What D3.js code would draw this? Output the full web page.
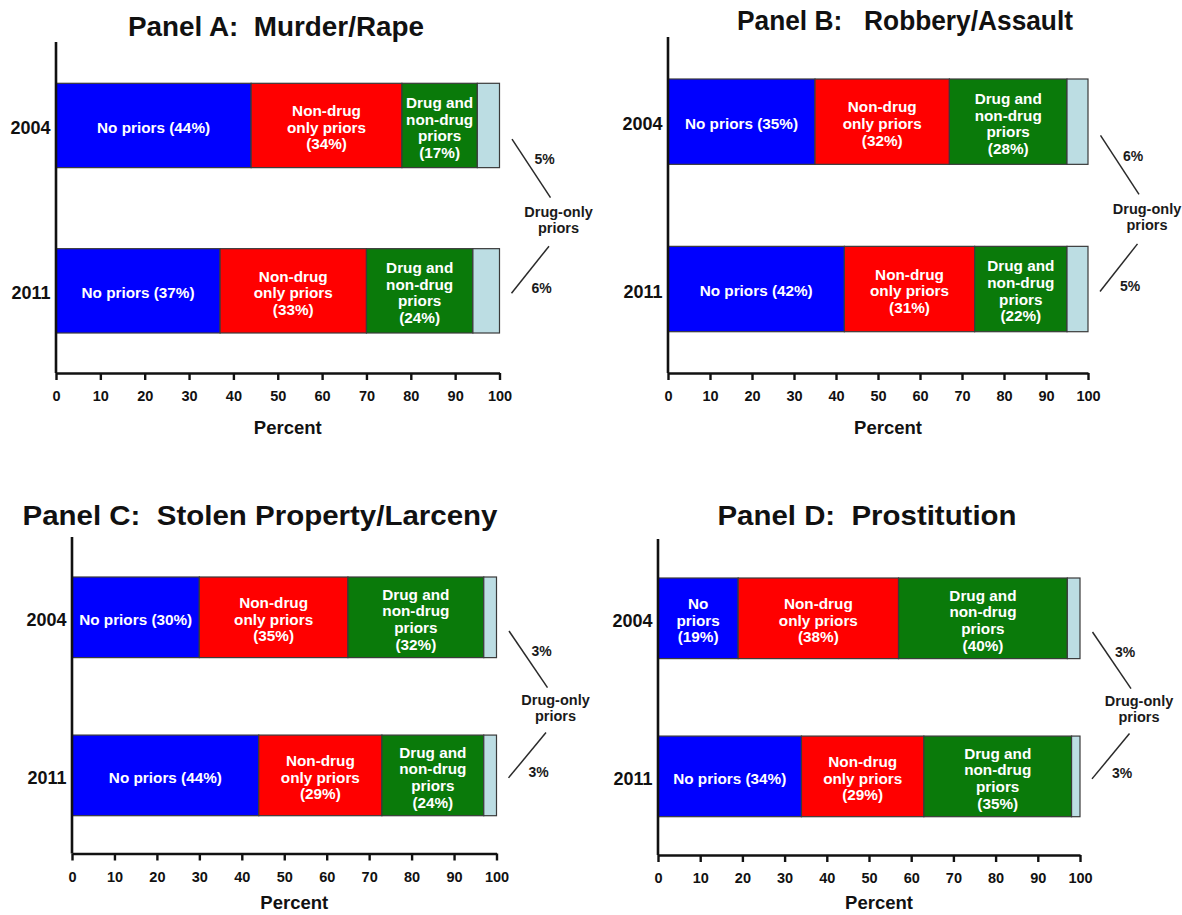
<!DOCTYPE html>
<html>
<head>
<meta charset="utf-8">
<script src="https://cdn.jsdelivr.net/npm/d3@7/dist/d3.min.js"></script>
<style>
  html, body { margin: 0; padding: 0; background: #fff; }
  svg { display: block; font-family: "Liberation Sans", Arial, Helvetica, sans-serif; }
  text { white-space: pre; }
</style>
</head>
<body>
<svg id="chart" width="1182" height="915"></svg>
<script>
// ---------- DATA ----------
const years = ["2004", "2011"];
const categories = ["No priors", "Non-drug only priors", "Drug and non-drug priors", "Drug-only priors"];
const panelTitles = [
  "Panel A:  Murder/Rape",
  "Panel B:   Robbery/Assault",
  "Panel C:  Stolen Property/Larceny",
  "Panel D:  Prostitution"
];
// percent values per year, order = categories
const murderRape     = [[44, 34, 17, 5], [37, 33, 24, 6]];
const robberyAssault = [[35, 32, 28, 6], [42, 31, 22, 5]];
const stolenLarceny  = [[30, 35, 32, 3], [44, 29, 24, 3]];
const prostitution   = [[19, 38, 40, 3], [34, 29, 35, 3]];
const tickValues = [0, 10, 20, 30, 40, 50, 60, 70, 80, 90, 100];
const axisLabel = "Percent";
const calloutLabel = ["Drug-only", "priors"];

// ---------- STYLE / LAYOUT ----------
const colors = ["#0000ff", "#ff0000", "#0a7a0a", "#bcdde3"];
const panelData = [murderRape, robberyAssault, stolenLarceny, prostitution];
const layout = [
  { x0: 56,  x1: 499.5, bandTop: 83.3, bandBot: 333,   axisTop: 42,  axisY: 373,   titleX: 276, titleY: 36,  titleW: 296 },
  { x0: 668, x1: 1088,  bandTop: 79,   bandBot: 331.7, axisTop: 37,  axisY: 373,   titleX: 905, titleY: 30,  titleW: 336 },
  { x0: 72,  x1: 496.5, bandTop: 577,  bandBot: 815.7, axisTop: 537, axisY: 853.5, titleX: 260, titleY: 525, titleW: 475 },
  { x0: 658, x1: 1080,  bandTop: 578,  bandBot: 816.7, axisTop: 539, axisY: 855,   titleX: 867, titleY: 525, titleW: 299 }
];

const svg = d3.select("#chart");

function segLines(catIdx, v, width) {
  const pct = "(" + v + "%)";
  if (catIdx === 0) {
    return width > 118 ? ["No priors " + pct] : ["No", "priors", pct];
  }
  if (catIdx === 1) return ["Non-drug", "only priors", pct];
  if (catIdx === 2) return ["Drug and", "non-drug", "priors", pct];
  return [];
}

panelData.forEach((data, pi) => {
  const L = layout[pi];
  const g = svg.append("g");

  const x = d3.scaleLinear().domain([0, 100]).range([L.x0, L.x1]).clamp(true);
  const y = d3.scaleBand().domain(years).range([L.bandTop, L.bandBot]).paddingInner(0.49).paddingOuter(0);

  // title
  g.append("text")
    .attr("x", L.titleX).attr("y", L.titleY)
    .attr("text-anchor", "middle")
    .attr("font-size", 27).attr("font-weight", "bold").attr("fill", "#111")
    .attr("textLength", L.titleW).attr("lengthAdjust", "spacingAndGlyphs")
    .text(panelTitles[pi]);

  // stacked bars
  years.forEach((yr, yi) => {
    const vals = data[yi];
    let cum = 0;
    const segs = vals.map((v, ci) => {
      const s = { ci, v, start: cum, end: cum + v };
      cum += v;
      return s;
    });
    const row = g.append("g");
    row.selectAll("rect").data(segs).join("rect")
      .attr("x", d => x(d.start))
      .attr("y", y(yr))
      .attr("width", d => Math.max(0, x(d.end) - x(d.start)))
      .attr("height", y.bandwidth())
      .attr("fill", d => colors[d.ci])
      .attr("stroke", "#3a3a3a")
      .attr("stroke-width", 1.2);

    segs.forEach(d => {
      const w = x(d.end) - x(d.start);
      const lines = segLines(d.ci, d.v, w);
      if (!lines.length) return;
      const cx = (x(d.start) + x(d.end)) / 2;
      const cy = y(yr) + y.bandwidth() / 2 + 2;
      const lh = 16.6;
      const t = row.append("text")
        .attr("text-anchor", "middle")
        .attr("font-size", 15.3).attr("font-weight", "bold").attr("fill", "#fff");
      lines.forEach((ln, li) => {
        t.append("tspan")
          .attr("x", cx)
          .attr("y", cy + (li - (lines.length - 1) / 2) * lh)
          .attr("dy", "0.35em")
          .text(ln);
      });
    });
  });

  // y axis (year labels)
  const yAxis = g.append("g")
    .attr("transform", `translate(${L.x0},0)`)
    .call(d3.axisLeft(y).tickSize(0).tickPadding(5.5));
  yAxis.select(".domain").remove();
  yAxis.selectAll("text")
    .attr("font-size", 18).attr("font-weight", "bold").attr("fill", "#111")
    .attr("font-family", null)
    .attr("dy", "0.48em");
  g.append("line")
    .attr("x1", L.x0).attr("x2", L.x0)
    .attr("y1", L.axisTop).attr("y2", L.axisY)
    .attr("stroke", "#111").attr("stroke-width", 2.6);

  // x axis
  const xAxis = g.append("g")
    .attr("transform", `translate(0,${L.axisY})`)
    .call(d3.axisBottom(x).tickValues(tickValues).tickSize(7).tickSizeOuter(0).tickPadding(11));
  xAxis.select(".domain").attr("stroke", "#111").attr("stroke-width", 2.6);
  xAxis.selectAll(".tick line").attr("stroke", "#111").attr("stroke-width", 2.4);
  xAxis.selectAll("text")
    .attr("font-size", 14.5).attr("font-weight", "bold").attr("fill", "#111")
    .attr("font-family", null);

  g.append("text")
    .attr("x", (L.x0 + L.x1) / 2 + 10).attr("y", Math.min(L.axisY + 61, 909))
    .attr("text-anchor", "middle")
    .attr("font-size", 18.5).attr("font-weight", "bold").attr("fill", "#111")
    .text(axisLabel);

  // Drug-only callout
  const xr = x(100);
  const b1 = y(years[0]), b2 = y(years[1]), bw = y.bandwidth();
  const c1 = b1 + bw / 2, c2 = b2 + bw / 2;
  const mid = (b1 + bw + b2) / 2;
  const ann = g.append("g").attr("fill", "#1a1a1a");
  ann.append("line")
    .attr("x1", xr + 12.5).attr("y1", c1 + 13.7)
    .attr("x2", xr + 51).attr("y2", b1 + bw + 30)
    .attr("stroke", "#2a2a2a").attr("stroke-width", 1.5);
  ann.append("line")
    .attr("x1", xr + 49.5).attr("y1", b2 - 2.5)
    .attr("x2", xr + 12).attr("y2", c2 + 2.5)
    .attr("stroke", "#2a2a2a").attr("stroke-width", 1.5);
  ann.append("text")
    .attr("x", xr + 45).attr("y", c1 + 34).attr("dy", "0.35em")
    .attr("text-anchor", "middle").attr("font-size", 14).attr("font-weight", "bold")
    .text(data[0][3] + "%");
  ann.append("text")
    .attr("x", xr + 42).attr("y", c2 - 3).attr("dy", "0.35em")
    .attr("text-anchor", "middle").attr("font-size", 14).attr("font-weight", "bold")
    .text(data[1][3] + "%");
  calloutLabel.forEach((s, i) => {
    ann.append("text")
      .attr("x", xr + 59).attr("y", mid + 3.5 + i * 16).attr("dy", "0.35em")
      .attr("text-anchor", "middle").attr("font-size", 14.5).attr("font-weight", "bold")
      .text(s);
  });
});
</script>
</body>
</html>
